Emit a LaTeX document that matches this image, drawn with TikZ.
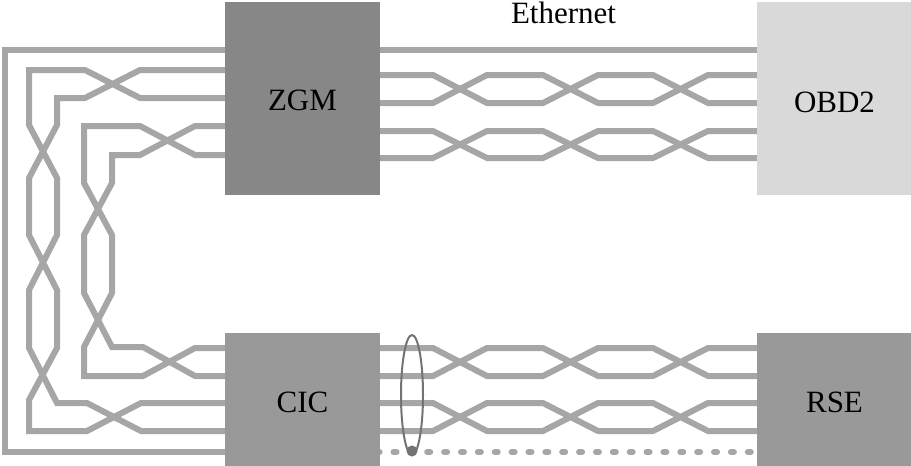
\documentclass[tikz,border=0pt]{standalone}
\usepackage{fontspec}
\setmainfont{Liberation Serif}
\usetikzlibrary{shapes.geometric}
\definecolor{wirec}{HTML}{A6A6A6}
\tikzset{
  x=1pt,y=-1pt,
  ecu/.style={inner sep=0pt,minimum width=155pt,text=black,text depth=0pt,font=\fontsize{31}{31}\selectfont},
  tallbox/.style={ecu,minimum height=193pt},
  lowbox/.style={ecu,minimum height=133pt},
  wire/.style={draw=wirec,line width=6pt,line join=miter},
  dotwire/.style={draw=wirec,line width=6pt,line cap=round,dash pattern=on 3pt off 13.87pt,dash phase=15.24pt},
}
\newcommand{\hpair}[4]{%
  \draw[wire] (#1.east |- 0,#3) -- (433,#3) -- (487,#4) -- (543,#4) -- (598,#3) -- (653,#3) -- (708,#4) -- (#2.west |- 0,#4);
  \draw[wire] (#1.east |- 0,#4) -- (433,#4) -- (487,#3) -- (543,#3) -- (598,#4) -- (653,#4) -- (708,#3) -- (#2.west |- 0,#3);
}
\begin{document}
\begin{tikzpicture}
\useasboundingbox (0,0) rectangle (911,466);
\draw[dotwire] (375,452) -- (757,452);
\node[tallbox,fill=black!47,text height=23pt] (zgm) at (302.5,98.5) {ZGM};
\node[tallbox,fill=black!15,text height=27pt] (obd) at (834.5,98.5) {OBD2};
\node[lowbox,fill=black!40,text height=25pt] (cic) at (302.5,399.5) {CIC};
\node[lowbox,fill=black!40,text height=25pt] (rse) at (834.5,399.5) {RSE};
\node[font=\fontsize{31}{31}\selectfont,inner sep=0pt,anchor=base] (eth) at (563.5,23) {Ethernet};
% straight runs
\draw[wire] (zgm.east |- 0,50) -- (obd.west |- 0,50);
\draw[wire] (zgm.west |- 0,50) -- (5,50) -- (5,452) -- (cic.west |- 0,452);
% horizontal twisted pairs
\hpair{zgm}{obd}{75}{103}
\hpair{zgm}{obd}{131}{158}
\hpair{cic}{rse}{348}{376}
\hpair{cic}{rse}{403}{431}
% outer left twisted pair
\draw[wire] (zgm.west |- 0,70) -- (140,70) -- (85,98) -- (57,98) -- (57,125) -- (29,178) -- (29,235) -- (57,290) -- (57,348) -- (29,400) -- (29,431) -- (87,431) -- (141,403) -- (cic.west |- 0,403);
\draw[wire] (zgm.west |- 0,98) -- (140,98) -- (85,70) -- (29,70) -- (29,125) -- (57,178) -- (57,235) -- (29,290) -- (29,348) -- (57,403) -- (87,403) -- (141,431) -- (cic.west |- 0,431);
% inner left twisted pair
\draw[wire] (zgm.west |- 0,126) -- (195,126) -- (140,155) -- (112,155) -- (112,183) -- (84,235) -- (84,293) -- (112,347) -- (143,347) -- (195,376) -- (cic.west |- 0,376);
\draw[wire] (zgm.west |- 0,155) -- (195,155) -- (140,126) -- (84,126) -- (84,183) -- (112,235) -- (112,293) -- (84,347) -- (84,376) -- (143,376) -- (195,348) -- (cic.west |- 0,348);
% clamp
\node[draw=black!55,line width=2pt,ellipse,inner sep=0pt,minimum width=22pt,minimum height=120pt] (clamp) at (412,395) {};
\node[circle,fill=black!55,inner sep=0pt,minimum size=11pt] (blob) at (412,451) {};
\end{tikzpicture}
\end{document}
